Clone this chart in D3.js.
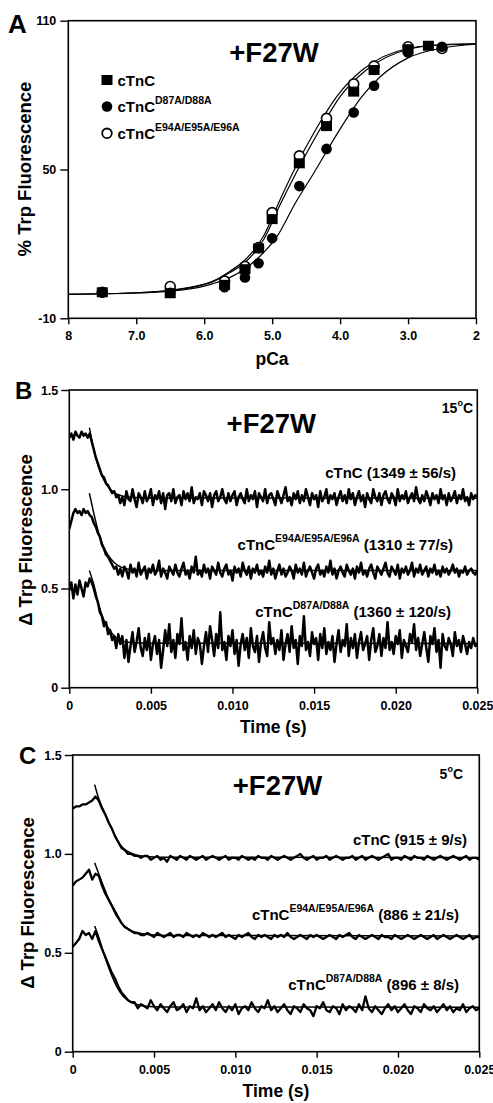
<!DOCTYPE html>
<html>
<head>
<meta charset="utf-8">
<script src="https://cdn.jsdelivr.net/npm/d3@7"></script>
<style>
body { margin: 0; background: #fff; }
svg { display: block; font-family: "Liberation Sans", Arial, sans-serif; font-weight: bold; }
text { white-space: pre; }
</style>
</head>
<body>
<svg width="493" height="1103"></svg>
<script>
// ---- panel A: steady-state titration ----
const pCaTicks = [8, 7, 6, 5, 4, 3, 2];
const pCaTickLabels = ['8', '7.0', '6.0', '5.0', '4.0', '3.0', '2'];
const fluorTicks = [-10, 50, 110];

const pCaWt = [7.5, 6.5, 5.7, 5.4, 5.2, 5.0, 4.6, 4.2, 3.8, 3.5, 3.0, 2.7];
const valWt = [0.5, 0.1, 3.5, 9.8, 18.2, 30, 52.5, 67.5, 81.4, 90.1, 98.5, 99.9];
const pCaD87 = [7.5, 6.5, 5.7, 5.4, 5.2, 5.0, 4.6, 4.2, 3.8, 3.5, 3.0, 2.5];
const valD87 = [0.5, 0.3, 2.5, 6.5, 12.2, 22.3, 43.3, 58.3, 73, 83.8, 97.2, 99.5];
const pCaE94 = [7.5, 6.5, 5.7, 5.4, 5.2, 5.0, 4.6, 4.2, 3.8, 3.5, 3.0, 2.5];
const valE94 = [0.5, 2.8, 5.0, 10.9, 18.5, 32.6, 55.5, 70.6, 84.5, 91.7, 99.5, 98.8];

// fitted curves
const curvePCaWt = [8, 7, 6.5, 6, 5.87, 5.62, 5.4, 5.12, 4.88, 4.64, 4.3, 4.0, 3.62, 3.0, 2.5, 2];
const curveWt = [-0.3, 0.3, 1.2, 3.6, 4.8, 8.5, 12.5, 22, 36, 49, 66, 79.4, 90, 98.5, 100.3, 100.8];
const curvePCaE94 = [8, 7, 6.5, 6, 5.87, 5.62, 5.4, 5.12, 4.88, 4.7, 4.36, 4.05, 3.68, 3.0, 2.5, 2];
const curveE94 = [-0.3, 0.3, 1.3, 3.8, 5.0, 9, 13.5, 23.5, 38, 48.5, 66, 79.4, 90, 98.8, 100.2, 100.5];
const curvePCaD87 = [8, 7, 6.5, 6, 5.87, 5.62, 5.4, 5.2, 4.93, 4.66, 4.40, 4.01, 3.68, 3.41, 3.0, 2.5, 2];
const curveD87 = [-0.3, 0.2, 0.9, 3.0, 4.0, 6.5, 10, 14.5, 22.9, 36.4, 48, 65.9, 79.4, 87.4, 95, 99, 100.5];

// ---- panels B and C: stopped-flow traces ----
const timeTicks = [0, 0.005, 0.010, 0.015, 0.020, 0.025];
const timeTickLabels = ['0', '0.005', '0.010', '0.015', '0.020', '0.025'];
const deltaTicks = [0, 0.5, 1.0, 1.5];
const deltaTickLabels = ['0', '0.5', '1.0', '1.5'];

// 15 C traces, evenly sampled from 0 to 0.025 s
const traceBWt = [1.26,1.28,1.25,1.29,1.27,1.26,1.29,1.27,1.28,1.26,
  1.28,1.24,1.20,1.16,1.13,1.10,1.07,1.06,1.03,1.02,1.00,0.98,0.99,0.96,
  0.97,0.93,0.96,0.92,0.99,0.95,0.94,1.00,0.95,0.91,0.98,0.96,0.93,0.99,0.94,0.96,1.00,0.92,0.97,0.95,0.99,0.93,0.98,0.90,0.97,0.98,0.94,1.00,0.93,0.96,
  0.97,0.92,0.99,0.95,0.98,0.94,1.01,0.93,0.96,0.95,0.98,0.92,0.99,0.97,0.94,0.98,0.91,0.97,0.99,0.94,
  0.96,1.00,0.95,0.93,0.98,0.94,0.97,0.99,0.92,0.96,0.98,0.95,0.93,1.00,0.94,0.97,0.95,0.99,0.91,0.98,
  0.96,0.94,1.00,0.93,0.97,0.98,0.95,0.92,0.99,0.96,0.93,0.97,1.01,0.94,0.96,0.92,0.98,0.95,0.99,0.93,
  0.97,0.94,1.00,0.96,0.92,0.98,0.95,0.97,0.91,0.99,0.94,0.96,1.00,0.93,0.97,0.95,0.98,0.92,0.96,0.99,
  0.94,0.97,0.93,1.00,0.95,0.98,0.92,0.96,0.99,0.94,0.97,0.91,0.98,0.95,0.93,1.00,0.96,0.94,0.98,0.92,
  0.97,0.99,0.95,0.93,0.98,0.96,0.92,1.00,0.94,0.97,0.95,0.99,0.93,0.96,0.98,0.94,1.01,0.95,0.93,0.97,
  0.94,0.99,0.96,0.92,0.98,0.95,0.97,
  0.93,1.00,0.95,0.97,0.92,0.98,0.94,0.96,0.99,0.93,0.97,0.95,1.00,0.94,0.96,0.92,0.98,0.95,0.97,0.96];
const traceBE94 = [0.80,0.84,0.88,0.90,0.88,0.89,0.87,0.90,0.88,0.89,0.87,
  0.86,0.83,0.81,0.78,0.76,0.72,0.70,0.67,0.66,0.64,0.62,0.60,0.61,
  0.57,0.60,0.56,0.61,0.59,0.55,0.62,0.58,0.60,0.56,0.63,0.57,0.59,0.61,0.55,0.60,0.58,0.62,0.57,0.59,0.64,0.56,0.60,0.58,0.55,0.61,0.59,0.57,0.62,0.58,
  0.56,0.60,0.63,0.57,0.59,0.55,0.61,0.58,0.66,0.57,0.59,0.56,0.62,0.58,0.60,0.55,0.61,0.59,0.57,0.63,
  0.58,0.56,0.60,0.62,0.57,0.59,0.54,0.61,0.58,0.60,0.56,0.63,0.59,0.57,0.61,0.55,0.60,0.58,0.62,0.57,
  0.59,0.56,0.61,0.58,0.64,0.57,0.60,0.55,0.59,0.62,0.57,0.60,0.56,0.58,0.61,0.59,0.55,0.62,0.58,0.60,
  0.57,0.63,0.56,0.59,0.61,0.58,0.55,0.60,0.62,0.57,0.59,0.56,0.61,0.58,0.64,0.57,0.60,0.55,0.59,0.61,
  0.58,0.56,0.62,0.59,0.57,0.60,0.55,0.61,0.58,0.63,0.57,0.59,0.56,0.60,0.62,0.58,0.55,0.61,0.59,0.57,
  0.60,0.63,0.58,0.56,0.61,0.59,0.57,0.62,0.55,0.60,0.58,0.61,0.57,0.59,0.63,0.56,0.60,0.58,0.62,0.57,
  0.59,0.61,0.56,0.60,0.58,0.62,0.57,0.59,0.56,0.61,0.58,0.60,0.57,0.59,0.62,0.58,0.60,0.56,0.59,0.58,
  0.61,0.57,0.59,0.60,0.58,0.57,0.59];
const traceBD87 = [0.49,0.53,0.45,0.52,0.47,0.54,0.50,0.46,0.53,0.51,
  0.55,0.53,0.50,0.46,0.43,0.38,0.36,0.31,0.33,0.27,0.29,0.24,0.26,0.20,0.27,
  0.22,0.26,0.15,0.24,0.13,0.21,0.28,0.18,0.23,0.30,0.20,0.16,0.25,0.19,0.27,0.14,0.22,0.26,0.17,0.24,
  0.10,0.19,0.29,0.21,0.32,0.18,0.24,0.15,0.27,0.22,0.35,0.19,0.23,0.14,0.26,0.20,0.29,0.17,0.25,0.22,
  0.12,0.21,0.28,0.18,0.31,0.24,0.16,0.27,0.20,0.38,0.19,0.23,0.14,0.26,0.21,0.29,0.17,0.24,0.11,0.22,
  0.27,0.19,0.25,0.15,0.30,0.21,0.18,0.26,0.13,0.23,0.28,0.20,0.16,0.33,0.22,0.25,0.17,0.24,0.19,0.29,
  0.14,0.22,0.27,0.18,0.31,0.20,0.24,0.12,0.26,0.21,0.36,0.19,0.23,0.16,0.28,0.22,0.25,0.14,0.27,0.20,
  0.30,0.17,0.23,0.19,0.26,0.13,0.22,0.29,0.18,0.24,0.21,0.32,0.16,0.25,0.20,0.27,0.15,0.23,0.28,0.19,
  0.22,0.26,0.14,0.24,0.30,0.18,0.21,0.27,0.16,0.25,0.20,0.33,0.19,0.23,0.17,0.26,0.22,0.29,0.15,0.24,
  0.21,0.18,0.27,0.23,0.32,0.19,0.25,0.16,0.22,0.28,0.20,0.13,0.26,0.22,0.30,0.18,0.24,0.10,0.27,0.21,
  0.19,0.25,0.22,0.16,0.28,0.21,0.24,0.18,0.26,0.22,0.17,0.23,0.20,0.25,0.21,0.22];

const fitTimeB = [0.00123, 0.0015, 0.0018, 0.0021, 0.0024, 0.0027, 0.003, 0.0035, 0.004, 0.005, 0.025];
const fitBWt = [1.31, 1.20, 1.11, 1.05, 1.01, 0.985, 0.972, 0.962, 0.958, 0.956, 0.955];
const fitBE94 = [0.98, 0.88, 0.78, 0.71, 0.665, 0.635, 0.615, 0.60, 0.594, 0.591, 0.59];
const fitBD87 = [0.59, 0.52, 0.42, 0.345, 0.30, 0.265, 0.245, 0.23, 0.226, 0.224, 0.223];

// 5 C traces, evenly sampled from 0 to 0.025 s
const traceCWt = [1.23,1.24,1.24,1.25,1.25,1.26,1.27,1.29,1.27,1.23,1.20,1.16,1.13,1.09,1.06,1.03,1.02,1.00,1.00,0.99,0.99,0.98,0.99,
  0.99,0.97,0.98,0.99,0.97,0.98,0.96,0.99,0.98,0.97,0.99,0.98,0.97,0.99,0.98,0.97,0.98,0.99,0.97,0.98,
  0.99,0.98,0.97,0.98,0.99,0.97,0.98,0.98,0.97,0.99,0.98,0.97,0.98,0.97,0.99,0.98,0.98,0.97,0.99,0.98,
  0.97,0.98,0.99,0.98,0.97,0.98,0.99,1.00,0.98,0.97,0.98,0.99,0.97,0.98,0.98,0.99,0.97,0.98,0.99,0.98,
  0.97,0.98,0.98,0.99,0.97,0.98,0.99,0.97,0.98,0.99,0.98,0.97,0.98,0.99,1.00,0.97,0.98,0.98,0.97,0.99,
  0.98,0.97,0.99,0.98,0.98,0.97,0.99,0.98,0.97,0.98,0.99,0.98,0.97,0.98,0.99,0.98,0.97,0.98,0.99,0.97,
  0.98,0.98,0.97];
const traceCE94 = [0.84,0.86,0.87,0.88,0.90,0.92,0.87,0.90,0.89,0.84,0.80,0.77,0.74,0.71,0.68,0.65,0.63,0.62,0.61,0.60,0.60,0.59,0.59,
  0.60,0.59,0.58,0.60,0.59,0.58,0.59,0.60,0.58,0.59,0.59,0.58,0.60,0.59,0.58,0.59,0.58,0.60,0.59,0.58,
  0.59,0.58,0.59,0.60,0.58,0.59,0.58,0.57,0.59,0.58,0.59,0.60,0.58,0.57,0.59,0.58,0.59,0.58,0.57,0.59,
  0.58,0.59,0.58,0.60,0.58,0.57,0.58,0.59,0.58,0.57,0.59,0.58,0.59,0.58,0.57,0.58,0.59,0.58,0.57,0.59,
  0.58,0.59,0.60,0.58,0.57,0.59,0.58,0.57,0.58,0.59,0.58,0.57,0.59,0.58,0.58,0.57,0.59,0.58,0.57,0.58,
  0.59,0.58,0.57,0.58,0.59,0.58,0.57,0.58,0.59,0.57,0.58,0.59,0.58,0.57,0.58,0.59,0.58,0.57,0.58,0.59,
  0.57,0.58,0.58];
const traceCD87 = [0.53,0.55,0.57,0.61,0.59,0.60,0.57,0.61,0.56,0.52,0.48,0.44,0.40,0.37,0.33,0.30,0.28,0.26,0.25,0.25,0.22,0.24,0.23,
  0.22,0.26,0.23,0.21,0.24,0.22,0.20,0.23,0.25,0.21,0.22,0.24,0.20,0.23,0.22,0.27,0.21,0.23,0.20,0.22,
  0.24,0.21,0.25,0.22,0.20,0.23,0.21,0.24,0.19,0.22,0.23,0.21,0.25,0.22,0.20,0.23,0.22,0.26,0.21,0.23,
  0.20,0.22,0.24,0.21,0.19,0.23,0.22,0.20,0.24,0.22,0.21,0.18,0.23,0.22,0.25,0.21,0.20,0.23,0.22,0.19,
  0.24,0.21,0.23,0.22,0.20,0.24,0.21,0.28,0.22,0.20,0.23,0.21,0.19,0.22,0.24,0.21,0.23,0.20,0.22,0.24,
  0.21,0.19,0.23,0.22,0.20,0.24,0.22,0.21,0.23,0.20,0.22,0.24,0.21,0.23,0.20,0.22,0.21,0.24,0.20,0.22,
  0.23,0.21,0.22];

const fitTimeC = [0.00135, 0.0016, 0.0019, 0.0023, 0.0027, 0.0031, 0.0035, 0.0039, 0.0045, 0.0055, 0.025];
const fitCWt = [1.35, 1.28, 1.22, 1.145, 1.075, 1.03, 1.008, 0.995, 0.987, 0.983, 0.982];
const fitCE94 = [0.955, 0.90, 0.835, 0.755, 0.685, 0.642, 0.616, 0.603, 0.594, 0.588, 0.585];
const fitCD87 = [0.635, 0.58, 0.50, 0.405, 0.33, 0.28, 0.255, 0.24, 0.23, 0.226, 0.225];

const svg = d3.select('svg');

function frame(x, y, xTicks, xLabels, yTicks, yLabels, xPad, yPad) {
    const [x0, x1] = x.range();
    const [y0, y1] = y.range();
    svg.append('g')
        .attr('transform', `translate(0,${y0})`)
        .call(d3.axisBottom(x).tickValues(xTicks).tickFormat((d, i) => xLabels[i]).tickSize(6).tickPadding(xPad))
        .call(g => g.select('.domain').remove());
    svg.append('g')
        .attr('transform', `translate(${x0},0)`)
        .call(d3.axisLeft(y).tickValues(yTicks).tickFormat((d, i) => yLabels[i]).tickSize(8).tickPadding(yPad))
        .call(g => g.select('.domain').remove());
    svg.selectAll('.tick line').attr('stroke', '#000').attr('stroke-width', 1.4);
    svg.selectAll('.tick text')
        .attr('fill', '#000')
        .style('font-size', '12.5px')
        .style('font-weight', 'bold')
        .style('font-family', '"Liberation Sans", Arial, sans-serif');
    svg.append('rect')
        .attr('x', x0).attr('y', y1)
        .attr('width', x1 - x0).attr('height', y0 - y1)
        .attr('fill', 'none').attr('stroke', '#000').attr('stroke-width', 1.6);
}

function txt(x, y, s, size, anchor) {
    return svg.append('text')
        .attr('x', x).attr('y', y)
        .attr('text-anchor', anchor || 'start')
        .style('font-size', size + 'px')
        .text(s);
}

function yTitle(x, y, s) {
    svg.append('text')
        .attr('transform', `translate(${x},${y}) rotate(-90)`)
        .attr('text-anchor', 'middle')
        .style('font-size', '18.5px')
        .text(s);
}

function tnc(x, y, sup, rest, anchor) {
    const t = svg.append('text')
        .attr('x', x).attr('y', y)
        .attr('text-anchor', anchor)
        .style('font-size', '15px');
    t.append('tspan').text('cTnC');
    if (sup) t.append('tspan').attr('dy', -8).style('font-size', '10.5px').text(sup);
    if (rest) t.append('tspan').attr('dy', sup ? 8 : 0).text(rest);
}

function degree(xEnd, y, num) {
    const t = svg.append('text')
        .attr('x', xEnd).attr('y', y)
        .attr('text-anchor', 'end')
        .style('font-size', '14px');
    t.append('tspan').text(num);
    t.append('tspan').attr('dy', -7).style('font-size', '9px').text('o');
    t.append('tspan').attr('dy', 7).text('C');
}

// ---------------- A ----------------
const xA = d3.scaleLinear().domain([8, 2]).range([68.3, 476]);
const yA = d3.scaleLinear().domain([-10, 110]).range([318.3, 20.7]);
frame(xA, yA, pCaTicks, pCaTickLabels, fluorTicks, fluorTicks.map(String), 7, 4);

const curveLine = d3.line().x(d => xA(d[0])).y(d => yA(d[1])).curve(d3.curveMonotoneX);
[[curvePCaWt, curveWt], [curvePCaE94, curveE94], [curvePCaD87, curveD87]].forEach(([px, py]) => {
    svg.append('path')
        .attr('d', curveLine(d3.zip(px, py)))
        .attr('fill', 'none').attr('stroke', '#000').attr('stroke-width', 1.2);
});

svg.append('g').selectAll('circle')
    .data(d3.zip(pCaE94, valE94))
    .join('circle')
    .attr('cx', d => xA(d[0])).attr('cy', d => yA(d[1])).attr('r', 5)
    .attr('fill', '#fff').attr('stroke', '#000').attr('stroke-width', 1.6);
svg.append('g').selectAll('circle')
    .data(d3.zip(pCaD87, valD87))
    .join('circle')
    .attr('cx', d => xA(d[0])).attr('cy', d => yA(d[1])).attr('r', 5.3)
    .attr('fill', '#000');
svg.append('g').selectAll('rect')
    .data(d3.zip(pCaWt, valWt))
    .join('rect')
    .attr('x', d => xA(d[0]) - 5.5).attr('y', d => yA(d[1]) - 5)
    .attr('width', 11).attr('height', 10)
    .attr('fill', '#000');

// legend
svg.append('rect').attr('x', 101.5).attr('y', 75).attr('width', 11).attr('height', 10).attr('fill', '#000');
svg.append('circle').attr('cx', 107).attr('cy', 106.5).attr('r', 5.3).attr('fill', '#000');
svg.append('circle').attr('cx', 107).attr('cy', 133.3).attr('r', 4.8)
    .attr('fill', '#fff').attr('stroke', '#000').attr('stroke-width', 1.8);
tnc(117.5, 85.5, null, null, 'start');
tnc(117.5, 111.5, 'D87A/D88A', null, 'start');
tnc(117.5, 138.5, 'E94A/E95A/E96A', null, 'start');

txt(8, 32.5, 'A', 26);
txt(274, 62, '+F27W', 27.5, 'middle');
txt(272, 365, 'pCa', 17.5, 'middle');
yTitle(31, 169, '% Trp Fluorescence');

// ---------------- B and C ----------------
function tracePanel(x, y, traces, traceWidth, fitTime, fits, letterPos, letter, titleY, tempPos, temp, labels, timeY) {
    frame(x, y, timeTicks, timeTickLabels, deltaTicks, deltaTickLabels, 7, 3);
    const clipId = 'clip' + letter;
    const [x0, x1] = x.range();
    const [y0, y1] = y.range();
    svg.append('clipPath').attr('id', clipId)
        .append('rect').attr('x', x0).attr('y', y1).attr('width', x1 - x0).attr('height', y0 - y1);
    const g = svg.append('g').attr('clip-path', `url(#${clipId})`);
    traces.forEach(tr => {
        const dt = 0.025 / (tr.length - 1);
        const line = d3.line().x((d, i) => x(i * dt)).y(d => y(d));
        g.append('path')
            .attr('d', line(tr))
            .attr('fill', 'none').attr('stroke', '#000')
            .attr('stroke-width', traceWidth).attr('stroke-linejoin', 'round');
    });
    const fitLine = d3.line().x((d, i) => x(fitTime[i])).y(d => y(d)).curve(d3.curveMonotoneX);
    fits.forEach(f => {
        g.append('path')
            .attr('d', fitLine(f))
            .attr('fill', 'none').attr('stroke', '#000').attr('stroke-width', 1.5);
    });
    txt(letterPos[0], letterPos[1], letter, 24);
    txt((x0 + x1) / 2 + titleY[0], titleY[1], '+F27W', 27.5, 'middle');
    degree(tempPos[0], tempPos[1], temp);
    labels.forEach(l => tnc(l[0], l[1], l[2], l[3], 'end'));
    txt((x0 + x1) / 2, timeY, 'Time (s)', 17.5, 'middle');
}

const xB = d3.scaleLinear().domain([0, 0.025]).range([69.3, 477.3]);
const yB = d3.scaleLinear().domain([0, 1.5]).range([687.7, 390]);
tracePanel(xB, yB, [traceBWt, traceBE94, traceBD87], 2.5, fitTimeB, [fitBWt, fitBE94, fitBD87],
    [15, 398.5], 'B', [-2, 433], [473, 413], '15',
    [[456, 477.5, null, ' (1349 \u00b1 56/s)'],
     [453, 549.5, 'E94A/E95A/E96A', ' (1310 \u00b1 77/s)'],
     [451, 616.5, 'D87A/D88A', ' (1360 \u00b1 120/s)']],
    733);
yTitle(32, 540, '\u0394 Trp Fluorescence');

const xC = d3.scaleLinear().domain([0, 0.025]).range([72.7, 479.3]);
const yC = d3.scaleLinear().domain([0, 1.5]).range([1051.7, 755]);
tracePanel(xC, yC, [traceCWt, traceCE94, traceCD87], 2.3, fitTimeC, [fitCWt, fitCE94, fitCD87],
    [19, 764], 'C', [1.5, 795], [463, 779], '5',
    [[467, 845, null, ' (915 \u00b1 9/s)'],
     [459, 920, 'E94A/E95A/E96A', ' (886 \u00b1 21/s)'],
     [459, 990, 'D87A/D88A', ' (896 \u00b1 8/s)']],
    1097);
yTitle(34, 903, '\u0394 Trp Fluorescence');
</script>
</body>
</html>
